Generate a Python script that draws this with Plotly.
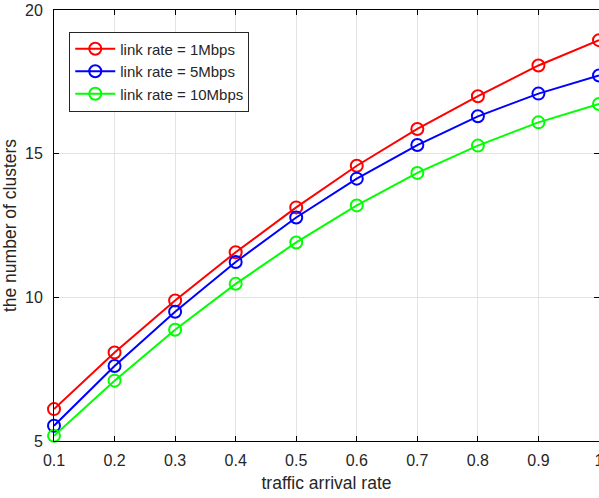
import plotly.graph_objects as go

x_vals = [0.1, 0.2, 0.3, 0.4, 0.5, 0.6, 0.7, 0.8, 0.9, 1.0]
rate_1mbps = [6.11, 8.08, 9.89, 11.57, 13.13, 14.58, 15.86, 17.0, 18.07, 18.95]
rate_5mbps = [5.53, 7.61, 9.50, 11.23, 12.78, 14.13, 15.30, 16.30, 17.09, 17.72]
rate_10mbps = [5.18, 7.10, 8.87, 10.47, 11.91, 13.20, 14.33, 15.28, 16.09, 16.73]
x_ticktext = ["0.1", "0.2", "0.3", "0.4", "0.5", "0.6", "0.7", "0.8", "0.9", "1"]
series_names = ["link rate = 1Mbps", "link rate = 5Mbps", "link rate = 10Mbps"]
colors = ["#ff0000", "#0000ff", "#00ff00"]

fig = go.Figure()
for name, ys, c in zip(series_names, [rate_1mbps, rate_5mbps, rate_10mbps], colors):
    fig.add_trace(go.Scatter(
        x=x_vals, y=ys, name=name, mode="lines+markers",
        line=dict(color=c, width=2),
        marker=dict(symbol="circle-open", size=12, color=c, line=dict(width=2, color=c)),
        cliponaxis=False,
    ))

font_family = "Liberation Sans, Arial, sans-serif"
axis_common = dict(
    showline=True, linecolor="black", linewidth=1, mirror="ticks",
    ticks="inside", ticklen=5, tickcolor="black",
    showgrid=True, gridcolor="#e3e3e3", gridwidth=1, zeroline=False,
    tickfont=dict(family=font_family, size=16, color="#262626"),
    ticklabeloverflow="allow",
)

fig.update_layout(
    width=599, height=498,
    margin=dict(l=54, r=0, t=10, b=57, autoexpand=False),
    paper_bgcolor="white", plot_bgcolor="white",
    font=dict(family=font_family, size=15, color="#262626"),
    xaxis=dict(range=[0.1, 1.0], tickvals=x_vals, ticktext=x_ticktext,
               ticklabelstandoff=5,
               title=dict(text="traffic arrival rate", font=dict(size=17.5), standoff=8),
               **axis_common),
    yaxis=dict(range=[5, 20], tickvals=[5, 10, 15, 20],
               ticklabelstandoff=7,
               title=dict(text="the number of clusters", font=dict(size=17.5), standoff=4),
               **axis_common),
    legend=dict(x=0.028, y=0.95, xanchor="left", yanchor="top",
                bgcolor="white", bordercolor="#262626", borderwidth=1,
                font=dict(family=font_family, size=15, color="#262626"),
                tracegroupgap=0, itemwidth=40),
    showlegend=True,
)

fig.write_html("out.html", config={"displayModeBar": False},
               post_script="document.body.style.margin='0';document.body.style.overflow='hidden';")
